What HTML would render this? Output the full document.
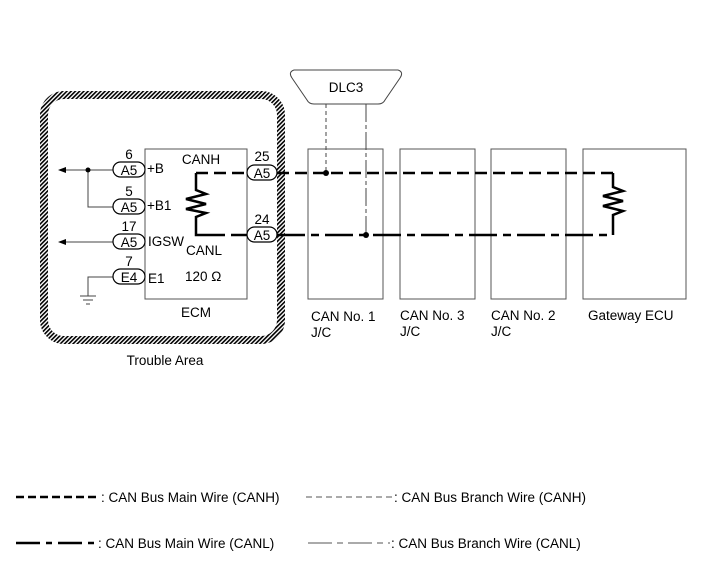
<!DOCTYPE html>
<html><head><style>
html,body{margin:0;padding:0;background:#fff;}
svg{display:block;}
text{font-family:"Liberation Sans",sans-serif;font-size:13.5px;fill:#000;}
</style></head><body>
<svg width="713" height="581" viewBox="0 0 713 581" xmlns="http://www.w3.org/2000/svg">
<defs>
<pattern id="h" width="3" height="3" patternUnits="userSpaceOnUse" patternTransform="rotate(45)">
<rect width="1.6" height="3" fill="#000"/>
</pattern>
</defs>
<rect x="44" y="95" width="237" height="245" rx="20" fill="none" stroke="url(#h)" stroke-width="8"/>
<text x="165" y="365" text-anchor="middle">Trouble Area</text>
<rect x="145" y="149" width="102" height="150" fill="none" stroke="#555" stroke-width="1"/>
<text x="196" y="317" text-anchor="middle">ECM</text>
<text x="201" y="164" text-anchor="middle">CANH</text>
<text x="204" y="255" text-anchor="middle">CANL</text>
<text x="185" y="281">120 Ω</text>
<text x="147" y="173">+B</text>
<text x="147" y="210">+B1</text>
<text x="148" y="246">IGSW</text>
<text x="148" y="283">E1</text>
<g stroke="#444" stroke-width="1" fill="none">
<line x1="64" y1="170" x2="113" y2="170"/>
<polyline points="88,170 88,207 113,207"/>
<line x1="64" y1="242" x2="113" y2="242"/>
<polyline points="113,277 88,277 88,296"/>
<line x1="80" y1="296" x2="96" y2="296"/>
<line x1="83" y1="300" x2="93" y2="300"/>
<line x1="86" y1="304" x2="90" y2="304"/>
</g>
<polygon points="58,170 66,167 66,173" fill="#000"/>
<polygon points="58,242 66,239 66,245" fill="#000"/>
<circle cx="88" cy="170" r="2.5" fill="#000"/>
<g fill="#fff" stroke="#000" stroke-width="1.2">
<rect x="113" y="162" width="32" height="15" rx="7.5"/>
<rect x="113" y="199" width="32" height="15" rx="7.5"/>
<rect x="113" y="234" width="32" height="15" rx="7.5"/>
<rect x="113" y="269" width="32" height="15" rx="7.5"/>
<rect x="247" y="165" width="30" height="15" rx="7.5"/>
<rect x="247" y="227" width="30" height="15" rx="7.5"/>
</g>
<g text-anchor="middle">
<text x="129" y="175">A5</text><text x="129" y="159">6</text>
<text x="129" y="212">A5</text><text x="129" y="196">5</text>
<text x="129" y="247">A5</text><text x="129" y="231">17</text>
<text x="129" y="282">E4</text><text x="129" y="266">7</text>
<text x="262" y="178">A5</text><text x="262" y="161">25</text>
<text x="262" y="240">A5</text><text x="262" y="224">24</text>
</g>
<polyline points="196,173 196,190 206,194 186,199 206,204 186,209 206,213 196,217 196,235 225,235" fill="none" stroke="#000" stroke-width="2.5"/>
<line x1="196" y1="173" x2="247" y2="173" stroke="#000" stroke-width="2.5" stroke-dasharray="12,6"/>
<line x1="231" y1="235" x2="247" y2="235" stroke="#000" stroke-width="2.5"/>
<g fill="none" stroke="#555" stroke-width="1">
<rect x="308" y="149" width="75" height="150"/>
<rect x="400" y="149" width="75" height="150"/>
<rect x="491" y="149" width="75" height="150"/>
<rect x="583" y="149" width="103" height="150"/>
</g>
<text x="311" y="321">CAN No. 1</text><text x="311" y="337">J/C</text>
<text x="400" y="320">CAN No. 3</text><text x="400" y="336">J/C</text>
<text x="491" y="320">CAN No. 2</text><text x="491" y="336">J/C</text>
<text x="588" y="320">Gateway ECU</text>
<path d="M294,70 L398,70 Q404,72 400,78 L385,100 Q383,104 378,104 L314,104 Q309,104 307,100 L292,78 Q288,72 294,70 Z" fill="#fff" stroke="#444" stroke-width="1"/>
<text x="346" y="92" text-anchor="middle">DLC3</text>
<line x1="326" y1="104" x2="326" y2="173" stroke="#444" stroke-width="1" stroke-dasharray="4,3"/>
<line x1="366" y1="104" x2="366" y2="235" stroke="#444" stroke-width="1" stroke-dasharray="18,3,4,3"/>
<line x1="277" y1="173" x2="613" y2="173" stroke="#000" stroke-width="2.5" stroke-dasharray="12,6"/>
<line x1="277" y1="235" x2="613" y2="235" stroke="#000" stroke-width="2.5" stroke-dasharray="28,6,8,6"/>
<polyline points="613,173 613,187 623,191 603,196 623,201 603,206 623,211 613,215 613,235" fill="none" stroke="#000" stroke-width="2.5"/>
<circle cx="326" cy="173" r="3" fill="#000"/>
<circle cx="366" cy="235" r="3" fill="#000"/>
<line x1="16" y1="497" x2="99" y2="497" stroke="#000" stroke-width="2.5" stroke-dasharray="8,4"/>
<text x="101" y="502">: CAN Bus Main Wire (CANH)</text>
<line x1="306" y1="497" x2="393" y2="497" stroke="#555" stroke-width="1" stroke-dasharray="6,4"/>
<text x="394" y="502">: CAN Bus Branch Wire (CANH)</text>
<line x1="16" y1="543" x2="97" y2="543" stroke="#000" stroke-width="2.5" stroke-dasharray="24,6,6,6"/>
<text x="98" y="548">: CAN Bus Main Wire (CANL)</text>
<line x1="308" y1="543" x2="390" y2="543" stroke="#555" stroke-width="1" stroke-dasharray="24,5,6,5"/>
<text x="391" y="548">: CAN Bus Branch Wire (CANL)</text>
</svg>
</body></html>
